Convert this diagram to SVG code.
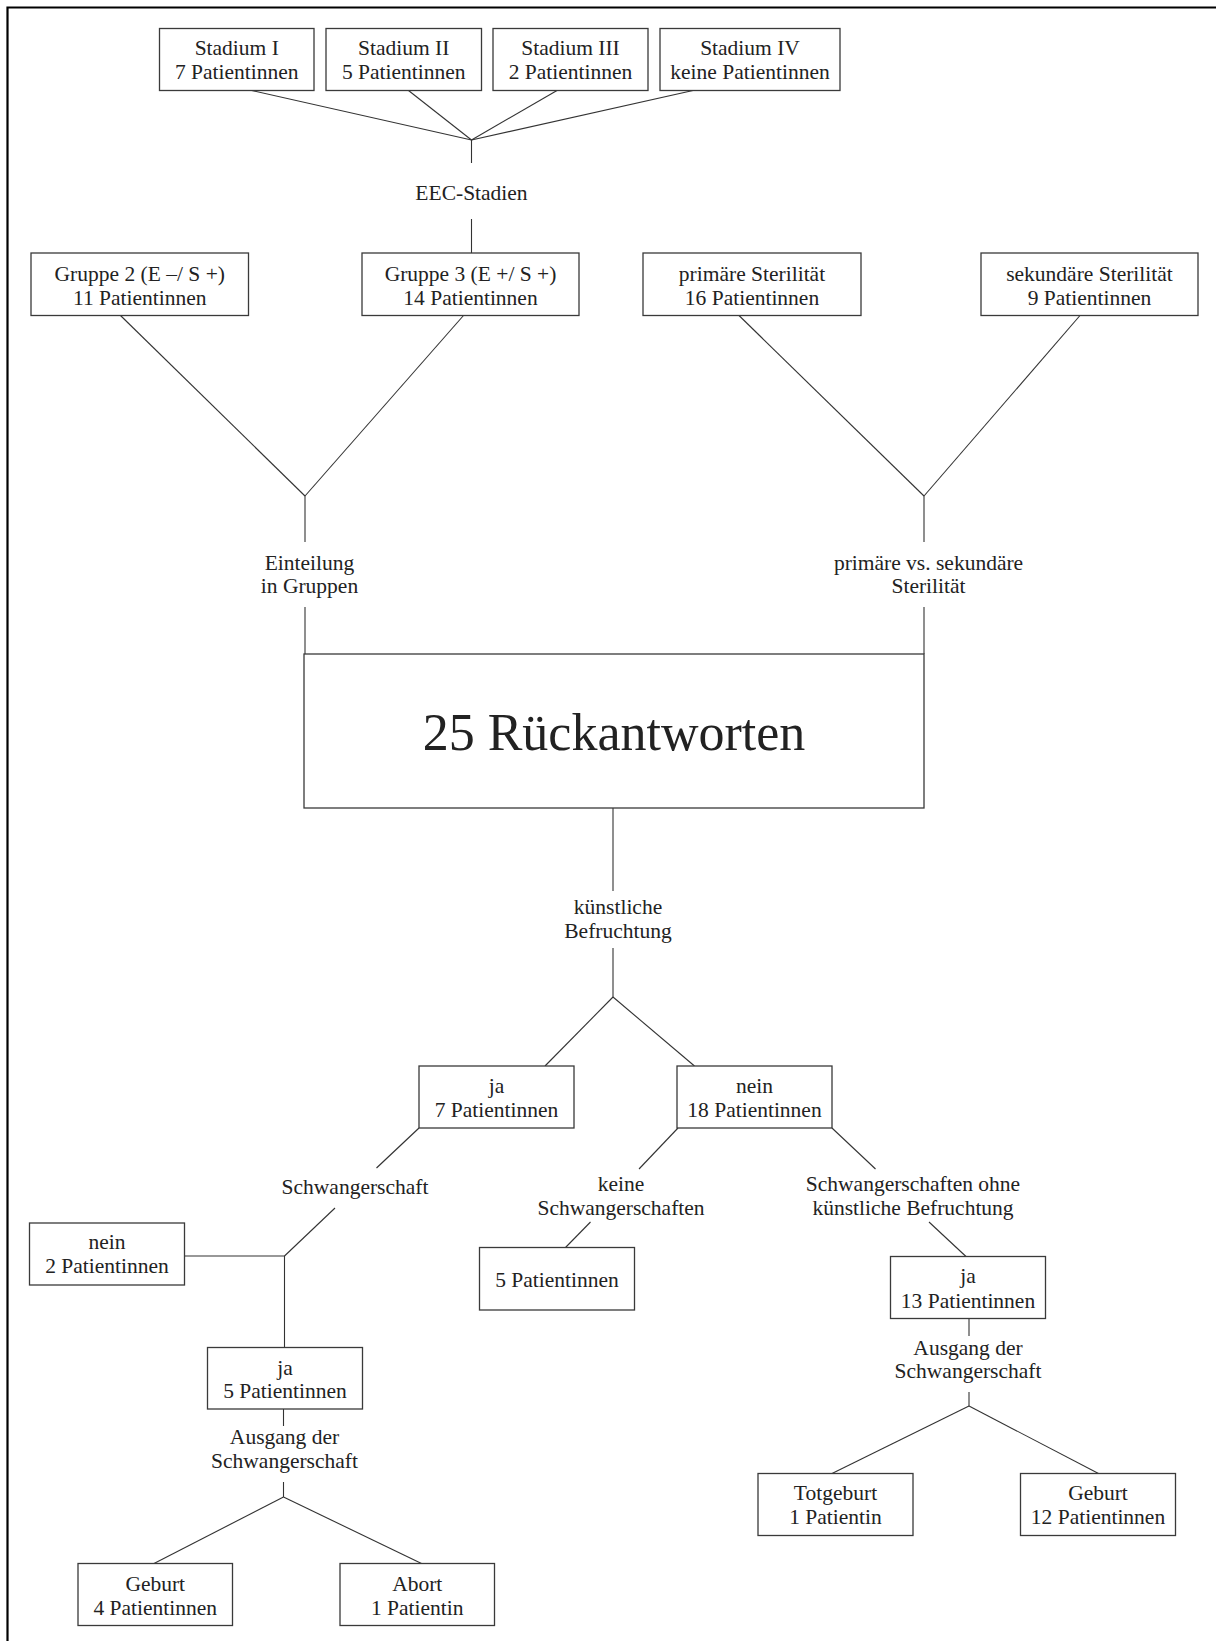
<svg xmlns="http://www.w3.org/2000/svg" width="1216" height="1641" viewBox="0 0 1216 1641">
<style>
.b{fill:#fff;stroke:#3a3a3a;stroke-width:1.3}
.c line,.c path{stroke:#333;stroke-width:1.1;fill:none}
text{font-family:"Liberation Serif","Times New Roman",serif;font-size:21.5px;fill:#222;text-anchor:middle}
.big{font-size:52px}
</style>
<rect width="1216" height="1641" fill="#fff"/>
<path d="M7.5,1641V7.5H1216" stroke="#000" stroke-width="2.2" fill="none"/>
<g class="c" id="connectors">
<line x1="251.7" y1="90.5" x2="471.5" y2="140"/>
<line x1="408.5" y1="90.5" x2="471.5" y2="140"/>
<line x1="557" y1="90.5" x2="471.5" y2="140"/>
<line x1="693" y1="90.5" x2="471.5" y2="140"/>
<line x1="471.5" y1="140" x2="471.5" y2="163"/>
<line x1="471.5" y1="219" x2="471.5" y2="253"/>
<line x1="120.5" y1="315.5" x2="305" y2="496"/>
<line x1="463.5" y1="315.5" x2="305" y2="496"/>
<line x1="305" y1="496" x2="305" y2="542"/>
<line x1="305" y1="607" x2="305" y2="654"/>
<line x1="739" y1="315.5" x2="924" y2="496"/>
<line x1="1080" y1="315.5" x2="924" y2="496"/>
<line x1="924" y1="496" x2="924" y2="542"/>
<line x1="924" y1="607" x2="924" y2="654"/>
<line x1="613" y1="808" x2="613" y2="891"/>
<line x1="613" y1="948" x2="613" y2="997"/>
<line x1="613" y1="997" x2="545" y2="1066"/>
<line x1="613" y1="997" x2="694.5" y2="1066"/>
<line x1="419" y1="1128" x2="376.5" y2="1168"/>
<line x1="335" y1="1208" x2="284.5" y2="1256"/>
<path d="M184.5,1256H284.5V1347.5"/>
<line x1="283.5" y1="1409" x2="283.5" y2="1426"/>
<line x1="283.5" y1="1482" x2="283.5" y2="1497"/>
<line x1="283.5" y1="1497" x2="154" y2="1563.5"/>
<line x1="283.5" y1="1497" x2="421.5" y2="1563.5"/>
<line x1="678" y1="1128" x2="639" y2="1169"/>
<line x1="590.5" y1="1222" x2="565.5" y2="1247.5"/>
<line x1="832" y1="1128" x2="875.5" y2="1169"/>
<line x1="929" y1="1222" x2="966" y2="1256.5"/>
<line x1="969" y1="1318.5" x2="969" y2="1336"/>
<line x1="969" y1="1392" x2="969" y2="1406"/>
<line x1="969" y1="1406" x2="832" y2="1473.5"/>
<line x1="969" y1="1406" x2="1098.5" y2="1473.5"/>
</g>
<g id="stadium1"><rect class="b" x="159.5" y="28.5" width="154.5" height="62"/><text x="236.75" y="55">Stadium I</text><text x="236.75" y="79">7 Patientinnen</text></g>
<g id="stadium2"><rect class="b" x="326" y="28.5" width="155.5" height="62"/><text x="403.75" y="55">Stadium II</text><text x="403.75" y="79">5 Patientinnen</text></g>
<g id="stadium3"><rect class="b" x="493" y="28.5" width="155" height="62"/><text x="570.5" y="55">Stadium III</text><text x="570.5" y="79">2 Patientinnen</text></g>
<g id="stadium4"><rect class="b" x="660" y="28.5" width="180" height="62"/><text x="750" y="55">Stadium IV</text><text x="750" y="79">keine Patientinnen</text></g>
<g id="eec"><text x="471.5" y="200">EEC-Stadien</text></g>
<g id="gruppe2"><rect class="b" x="31" y="253" width="217.5" height="62.5"/><text x="139.75" y="281">Gruppe 2 (E –/ S +)</text><text x="139.75" y="305">11 Patientinnen</text></g>
<g id="gruppe3"><rect class="b" x="362" y="253" width="217" height="62.5"/><text x="470.5" y="281">Gruppe 3 (E +/ S +)</text><text x="470.5" y="305">14 Patientinnen</text></g>
<g id="primaer"><rect class="b" x="643" y="253" width="218" height="62.5"/><text x="752" y="281">primäre Sterilität</text><text x="752" y="305">16 Patientinnen</text></g>
<g id="sekundaer"><rect class="b" x="981" y="253" width="217" height="62.5"/><text x="1089.5" y="281">sekundäre Sterilität</text><text x="1089.5" y="305">9 Patientinnen</text></g>
<g id="einteilung"><text x="309.5" y="570">Einteilung</text><text x="309.5" y="593">in Gruppen</text></g>
<g id="primvssek"><text x="928.5" y="570">primäre vs. sekundäre</text><text x="928.5" y="593">Sterilität</text></g>
<g id="rueckantworten"><rect class="b" x="304" y="654" width="620" height="154"/><text class="big" x="614" y="750">25 Rückantworten</text></g>
<g id="kuenstlich"><text x="618" y="914">künstliche</text><text x="618" y="938">Befruchtung</text></g>
<g id="ja7"><rect class="b" x="419" y="1066" width="155" height="62"/><text x="496.5" y="1093">ja</text><text x="496.5" y="1117">7 Patientinnen</text></g>
<g id="nein18"><rect class="b" x="677" y="1066" width="155" height="62"/><text x="754.5" y="1093">nein</text><text x="754.5" y="1117">18 Patientinnen</text></g>
<g id="schwangerschaft"><text x="355" y="1194">Schwangerschaft</text></g>
<g id="nein2"><rect class="b" x="29.5" y="1223" width="155" height="62"/><text x="107" y="1249">nein</text><text x="107" y="1273">2 Patientinnen</text></g>
<g id="ja5"><rect class="b" x="207.5" y="1347.5" width="155" height="61.5"/><text x="285" y="1374.5">ja</text><text x="285" y="1398">5 Patientinnen</text></g>
<g id="ausgang1"><text x="284.5" y="1444">Ausgang der</text><text x="284.5" y="1468">Schwangerschaft</text></g>
<g id="geburt4"><rect class="b" x="78" y="1563.5" width="154.5" height="62"/><text x="155.25" y="1591">Geburt</text><text x="155.25" y="1615">4 Patientinnen</text></g>
<g id="abort"><rect class="b" x="340" y="1563.5" width="154.5" height="62"/><text x="417.25" y="1591">Abort</text><text x="417.25" y="1615">1 Patientin</text></g>
<g id="keine"><text x="621" y="1191">keine</text><text x="621" y="1214.5">Schwangerschaften</text></g>
<g id="pat5"><rect class="b" x="479.5" y="1247.5" width="155" height="62.5"/><text x="557" y="1286.5">5 Patientinnen</text></g>
<g id="ohne"><text x="913" y="1191">Schwangerschaften ohne</text><text x="913" y="1214.5">künstliche Befruchtung</text></g>
<g id="ja13"><rect class="b" x="890.5" y="1256.5" width="155" height="62"/><text x="968" y="1283">ja</text><text x="968" y="1307.5">13 Patientinnen</text></g>
<g id="ausgang2"><text x="968" y="1354.5">Ausgang der</text><text x="968" y="1377.5">Schwangerschaft</text></g>
<g id="totgeburt"><rect class="b" x="758" y="1473.5" width="155" height="62"/><text x="835.5" y="1500">Totgeburt</text><text x="835.5" y="1524">1 Patientin</text></g>
<g id="geburt12"><rect class="b" x="1020.5" y="1473.5" width="155" height="62"/><text x="1098" y="1500">Geburt</text><text x="1098" y="1524">12 Patientinnen</text></g>
</svg>
